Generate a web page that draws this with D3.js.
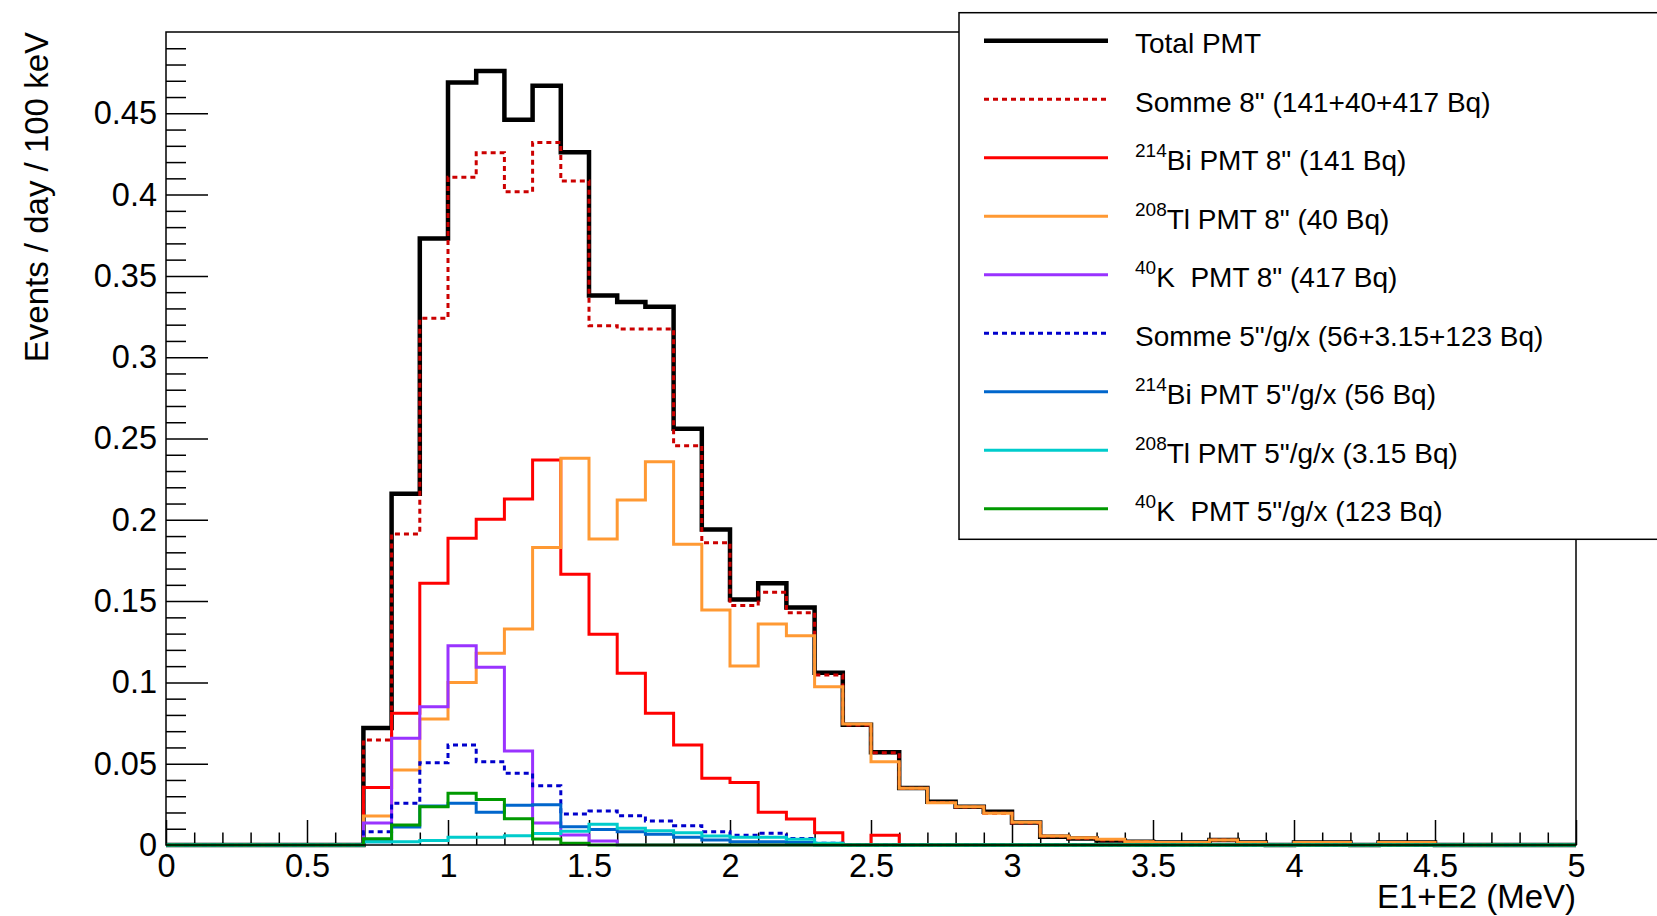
<!DOCTYPE html>
<html>
<head>
<meta charset="utf-8">
<script src="https://cdn.jsdelivr.net/npm/d3@7"></script>
<style>
  html, body { margin: 0; padding: 0; background: #fff; }
  svg { display: block; }
  text { font-family: "Liberation Sans", Arial, Helvetica, sans-serif; fill: #000; white-space: pre; }
</style>
</head>
<body>
<svg id="chart" width="1657" height="916"></svg>
<script>
// ---------------- DATA (bins of 0.1 MeV, lower edges) ----------------
const binLow = [0.0,0.1,0.2,0.3,0.4,0.5,0.6,0.7,0.8,0.9,
                1.0,1.1,1.2,1.3,1.4,1.5,1.6,1.7,1.8,1.9,
                2.0,2.1,2.2,2.3,2.4,2.5,2.6,2.7,2.8,2.9,
                3.0,3.1,3.2,3.3,3.4,3.5,3.6,3.7,3.8,3.9,
                4.0,4.1,4.2,4.3,4.4,4.5,4.6,4.7,4.8,4.9];
const xMax = 5;

const totalPMT = [0,0,0,0,0,0,0,0.072,0.216,0.373,
                  0.469,0.476,0.446,0.467,0.426,0.338,0.334,0.331,0.256,0.194,
                  0.151,0.161,0.146,0.106,0.074,0.057,0.035,0.0266,0.0236,0.0205,
                  0.0138,0.0051,0.004,0.0027,0.002,0.0015,0.0015,0.003,0.0015,0,
                  0.0015,0.0015,0,0.0015,0.0015,0,0,0,0,0];
const somme8 = [0,0,0,0,0,0,0,0.0646,0.1913,0.3239,
                0.4106,0.4258,0.4018,0.4321,0.4084,0.3194,0.3173,0.3173,0.2456,0.1859,
                0.1473,0.1554,0.1429,0.1045,0.0738,0.0568,0.0349,0.0262,0.0234,0.0195,
                0.0136,0.0054,0.0042,0.003,0.002,0.0015,0.0015,0.003,0.0015,0,
                0.0015,0.0015,0,0.0015,0.0015,0,0,0,0,0];
const bi8 = [0,0,0,0,0,0,0,0.0353,0.081,0.161,
             0.1886,0.2003,0.2128,0.2368,0.1665,0.1296,0.1056,0.081,0.0615,0.041,
             0.0385,0.0201,0.016,0.0075,0,0.006,0,0,0,0,
             0,0,0,0,0,0,0,0,0,0,
             0,0,0,0,0,0,0,0,0,0];
const tl8 = [0,0,0,0,0,0,0,0.0178,0.0461,0.0775,
             0.1,0.1179,0.1328,0.1829,0.2378,0.1882,0.2122,0.2357,0.1849,0.1445,
             0.1101,0.1359,0.1287,0.0974,0.0744,0.0512,0.0349,0.026,0.0236,0.0195,
             0.014,0.0055,0.0045,0.0035,0.002,0.0015,0.0015,0.003,0.0015,0,
             0.0015,0.0015,0,0.0015,0.0015,0,0,0,0,0];
const k8 = [0,0,0,0,0,0,0,0.0135,0.0656,0.085,
            0.1226,0.1093,0.0578,0.0135,0.0062,0.0025,0,0,0,0,
            0,0,0,0,0,0,0,0,0,0,
            0,0,0,0,0,0,0,0,0,0,
            0,0,0,0,0,0,0,0,0,0];
const somme5 = [0,0,0,0,0,0,0,0.0082,0.0256,0.0506,
                0.0615,0.0512,0.0441,0.0364,0.019,0.0209,0.018,0.0148,0.0119,0.0082,
                0.006,0.0072,0.004,0.001,0,0,0,0,0,0,
                0,0,0,0,0,0,0,0,0,0,
                0,0,0,0,0,0,0,0,0,0];
const bi5 = [0,0,0,0,0,0,0,0.002,0.011,0.024,
             0.0256,0.0201,0.0244,0.0248,0.0113,0.0095,0.0082,0.0066,0.0047,0.003,
             0.002,0.002,0.0015,0,0,0,0,0,0,0,
             0,0,0,0,0,0,0,0,0,0,
             0,0,0,0,0,0,0,0,0,0];
const tl5 = [0,0,0,0,0,0,0,0.002,0.002,0.0027,
             0.0047,0.0047,0.0057,0.007,0.0085,0.0127,0.0103,0.0088,0.0076,0.0055,
             0.0047,0.0047,0.0035,0.001,0,0,0,0,0,0,
             0,0,0,0,0,0,0,0,0,0,
             0,0,0,0,0,0,0,0,0,0];
const k5 = [0,0,0,0,0,0,0,0.0038,0.0123,0.0236,
            0.0318,0.028,0.0162,0.0037,0.001,0,0,0,0,0,
            0,0,0,0,0,0,0,0,0,0,
            0,0,0,0,0,0,0,0,0,0,
            0,0,0,0,0,0,0,0,0,0];

const xTickValues = [0,0.5,1,1.5,2,2.5,3,3.5,4,4.5,5];
const xTickLabels = ["0","0.5","1","1.5","2","2.5","3","3.5","4","4.5","5"];
const yTickValues = [0,0.05,0.1,0.15,0.2,0.25,0.3,0.35,0.4,0.45];
const yTickLabels = ["0","0.05","0.1","0.15","0.2","0.25","0.3","0.35","0.4","0.45"];

const seriesNames = ["Total PMT", "Somme 8\" (141+40+417 Bq)", "Bi PMT 8\" (141 Bq)", "Tl PMT 8\" (40 Bq)",
                     "K  PMT 8\" (417 Bq)", "Somme 5\"/g/x (56+3.15+123 Bq)", "Bi PMT 5\"/g/x (56 Bq)",
                     "Tl PMT 5\"/g/x (3.15 Bq)", "K  PMT 5\"/g/x (123 Bq)"];
const seriesSup = ["", "", "214", "208", "40", "", "214", "208", "40"];
const seriesData = [totalPMT, somme8, bi8, tl8, k8, somme5, bi5, tl5, k5];
const seriesColor = ["#000000", "#cc0000", "#ff0000", "#ff9933", "#9933ff", "#0000cc", "#0066cc", "#00cccc", "#009900"];
const seriesWidth = [4.5, 3, 3, 3, 3, 3, 3, 3, 3];
const seriesDash = [null, "5,4", null, null, null, "5,4", null, null, null];

// ---------------- LAYOUT ----------------
const svg = d3.select("#chart");
const L = 166, R = 1576, T = 32, B = 845;
const x = d3.scaleLinear().domain([0, xMax]).range([L, R]);
const y = d3.scaleLinear().domain([0, 0.5]).range([B, T]);

svg.append("rect").attr("width", 1657).attr("height", 916).attr("fill", "#fff");

svg.append("clipPath").attr("id", "clip")
  .append("rect").attr("x", L).attr("y", T).attr("width", R - L).attr("height", B - T + 3);

// minor ticks
const xMinor = d3.range(0, 51).map(i => i / 10).filter(v => Math.abs(v * 2 - Math.round(v * 2)) > 1e-6);
const yMinor = d3.range(0, 50).map(i => i / 100).filter(v => Math.abs(v * 20 - Math.round(v * 20)) > 1e-6);

const gx = svg.append("g").attr("transform", `translate(0,${B})`);
gx.call(d3.axisBottom(x).tickValues(xTickValues).tickSize(-25).tickPadding(9)
  .tickFormat((d, i) => xTickLabels[i]));
gx.append("g").call(d3.axisBottom(x).tickValues(xMinor).tickSize(-12.5).tickFormat(""));

const gy = svg.append("g").attr("transform", `translate(${L},0)`);
gy.call(d3.axisLeft(y).tickValues(yTickValues).tickSize(-42).tickPadding(9)
  .tickFormat((d, i) => yTickLabels[i]));
gy.append("g").call(d3.axisLeft(y).tickValues(yMinor).tickSize(-20).tickFormat(""));

svg.selectAll(".domain").remove();
svg.selectAll(".tick line").attr("stroke", "#000").attr("stroke-width", 1.5);
svg.selectAll(".tick text").attr("font-size", 32.5).attr("font-family", "Liberation Sans, Arial, sans-serif").attr("fill", "#000");

// histograms
const line = d3.line().x(d => x(d[0])).y(d => y(d[1])).curve(d3.curveStepAfter);
const gh = svg.append("g").attr("clip-path", "url(#clip)");
seriesData.forEach((vals, k) => {
  const pts = vals.map((v, i) => [binLow[i], v]);
  pts.push([xMax, vals[vals.length - 1]]);
  gh.append("path").datum(pts)
    .attr("d", line)
    .attr("fill", "none")
    .attr("stroke", seriesColor[k])
    .attr("stroke-width", seriesWidth[k])
    .attr("stroke-dasharray", seriesDash[k])
    .attr("stroke-linejoin", "miter");
});

// frame
svg.append("rect").attr("x", L).attr("y", T).attr("width", R - L).attr("height", B - T)
  .attr("fill", "none").attr("stroke", "#000").attr("stroke-width", 1.5);

// axis titles
svg.append("text").attr("x", R).attr("y", 908).attr("text-anchor", "end")
  .attr("font-size", 33).text("E1+E2 (MeV)");
svg.append("text").attr("transform", `translate(48,${T}) rotate(-90)`).attr("text-anchor", "end")
  .attr("font-size", 33).text("Events / day / 100 keV");

// legend
const lg = svg.append("g");
lg.append("rect").attr("x", 959).attr("y", 12.7).attr("width", 760).attr("height", 526.6)
  .attr("fill", "#fff").attr("stroke", "#000").attr("stroke-width", 1.5);
const ly0 = 40.7, ldy = 58.5;
seriesNames.forEach((name, k) => {
  const yy = ly0 + k * ldy;
  lg.append("line").attr("x1", 984).attr("x2", 1108).attr("y1", yy).attr("y2", yy)
    .attr("stroke", seriesColor[k]).attr("stroke-width", k === 0 ? 4.5 : 3)
    .attr("stroke-dasharray", seriesDash[k]);
  const t = lg.append("text").attr("x", 1135).attr("y", yy + 12.5).attr("font-size", 28)
    .attr("xml:space", "preserve");
  if (seriesSup[k]) {
    t.append("tspan").attr("font-size", 19).attr("dy", -13).text(seriesSup[k]);
    t.append("tspan").attr("dy", 13).text(name);
  } else {
    t.text(name);
  }
});
</script>
</body>
</html>
